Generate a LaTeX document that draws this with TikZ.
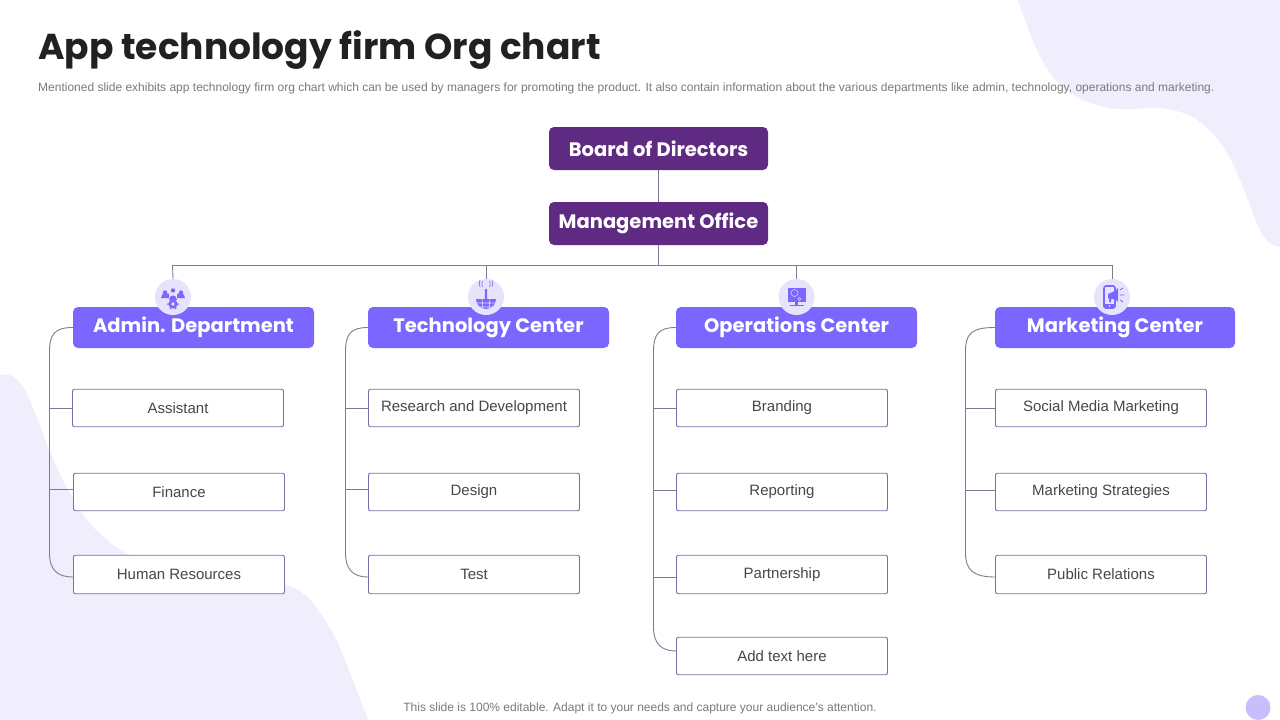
\documentclass[tikz,border=0pt]{standalone}
\usepackage{fontspec}
\setmainfont{Liberation Sans}
\newfontfamily\headfont{Poppins}
\definecolor{blob}{HTML}{F0EEFD}
\definecolor{deep}{HTML}{5F2A82}
\definecolor{violet}{HTML}{7B66FF}
\definecolor{halo}{HTML}{E6E3FB}
\definecolor{wire}{HTML}{7E7A96}
\definecolor{edge}{HTML}{7470A8}
\definecolor{dot}{HTML}{C6BFFB}
\tikzset{
  x=1pt,y=-1pt,
  topbox/.style={draw=none,fill=deep,rounded corners=5pt,minimum width=219pt,minimum height=43pt,inner sep=0pt,text=white,font=\headfont\bfseries\fontsize{19.5}{22}\selectfont},
  headbox/.style={draw=none,fill=violet,rounded corners=5pt,minimum width=241pt,minimum height=41pt,inner sep=0pt,text=white,font=\headfont\bfseries\fontsize{19.5}{22}\selectfont},
  itembox/.style={draw=edge,line width=0.9pt,fill=white,rounded corners=2pt,minimum width=211pt,minimum height=37.5pt,inner sep=0pt,text=black!72,font=\fontsize{15}{18}\selectfont},
  iconring/.style={circle,fill=halo,draw=none,minimum size=36pt,inner sep=0pt},
  wireline/.style={draw=wire,line width=0.9pt},
  glyph/.style={fill=violet,draw=none},
  glyphline/.style={draw=violet,line width=0.8pt,fill=none}
}
\newcommand{\bracket}[4]{% head, last item, trunk coordinate, lower-end y shift
  \draw[wireline] (#1.west) .. controls ($(#3 |- #1.west)+(5,0)$) and ($(#3 |- #1.west)+(0,7)$) .. ($(#3 |- #1.west)+(0,24)$)
    -- ($(#3 |- #2.west)+(0,#4-24)$) .. controls ($(#3 |- #2.west)+(0,#4-7)$) and ($(#3 |- #2.west)+(8,#4)$) .. ($(#2.west)+(0,#4)$);}
\usetikzlibrary{calc}
\begin{document}
\begin{tikzpicture}
\useasboundingbox (0,0) rectangle (1280,720);
\fill[white] (0,0) rectangle (1280,720);
% background shapes
\fill[blob] (1018,0) .. controls (1028,30) and (1038,58) .. (1053,77) .. controls (1063,88) and (1072,95) .. (1083,100) .. controls (1100,108) and (1118,110) .. (1133,109) .. controls (1145,108) and (1152,107) .. (1160,108) .. controls (1178,110) and (1190,114) .. (1200,122) .. controls (1212,132) and (1220,140) .. (1227,153) .. controls (1236,168) and (1241,183) .. (1247,197) .. controls (1253,212) and (1257,226) .. (1263,236) .. controls (1268,243) and (1274,246) .. (1280,247) -- (1280,0) -- cycle;
\fill[blob] (0,375) .. controls (5,374) and (10,374) .. (15,378) .. controls (22,384) and (27,392) .. (31,403) .. controls (37,417) and (42,430) .. (47,445) .. controls (54,461) and (60,475) .. (66,486) .. controls (75,502) and (85,520) .. (97,531) .. controls (108,541) and (118,550) .. (130,555) .. controls (150,570) and (220,570) .. (287,585) .. controls (302,590) and (312,600) .. (320,613) .. controls (332,630) and (338,642) .. (343,655) .. controls (352,677) and (360,700) .. (368,720) -- (0,720) -- cycle;
\fill[dot] (1258,707.5) circle (12.5);
% title and texts
\node[anchor=west,inner sep=0pt,text=black!87,font=\headfont\bfseries\fontsize{36}{40}\selectfont] (title) at (38,50) {App technology firm Org chart};
\node[anchor=west,inner sep=0pt,text=black!52,font=\fontsize{12}{14}\selectfont] (sub) at (38,88.5) {Mentioned slide exhibits app technology firm org chart which can be used by managers for promoting the product. It also contain information about the various departments like admin, technology, operations and marketing.};
\node[inner sep=0pt,text=black!52,font=\fontsize{12}{14}\selectfont] (foot) at (640,708.5) {This slide is 100\% editable. Adapt it to your needs and capture your audience's attention.};
% top nodes
\node[topbox] (board) at (658.5,148.5) {Board of Directors};
\node[topbox] (mgmt) at (658.5,223.5) {Management Office};
\draw[wireline] (board) -- (mgmt);
% department heads
\node[headbox] (hA) at (193.5,327.5) {Admin. Department};
\node[headbox] (hT) at (488.5,327.5) {Technology Center};
\node[headbox] (hO) at (796.5,327.5) {Operations Center};
\node[headbox,minimum width=240pt] (hM) at (1115,327.5) {Marketing Center};
% icon rings
\node[iconring] (iA) at (173,297) {};
\node[iconring] (iT) at (486,297) {};
\node[iconring] (iO) at (796.5,297) {};
\node[iconring] (iM) at (1112,297) {};
% bus
\coordinate (bus) at (658.5,265);
\coordinate (busA) at (172.5,265);
\coordinate (busM) at (1112,265);
\draw[wireline] (mgmt.south) -- (bus);
\draw[wireline] (busA) -- (busM);
\draw[wireline] (busA) -- (iA.north);
\draw[wireline] (iT.north) -- (iT.north |- bus);
\draw[wireline] (iO.north) -- (iO.north |- bus);
\draw[wireline] (busM) -- (iM.north);
% items
\node[itembox] (a1) at (178,408) {Assistant};
\node[itembox] (a2) at (179,492) {Finance};
\node[itembox,minimum height=38.5pt] (a3) at (179,574.5) {Human Resources};
\node[itembox] (t1) at (474,408) {Research and Development};
\node[itembox] (t2) at (474,492) {Design};
\node[itembox,minimum height=38.5pt] (t3) at (474,574.5) {Test};
\node[itembox] (o1) at (782,408) {Branding};
\node[itembox] (o2) at (782,492) {Reporting};
\node[itembox,minimum height=38.5pt] (o3) at (782,574.5) {Partnership};
\node[itembox] (o4) at (782,656) {Add text here};
\node[itembox] (m1) at (1101,408) {Social Media Marketing};
\node[itembox] (m2) at (1101,492) {Marketing Strategies};
\node[itembox,minimum height=38.5pt] (m3) at (1101,574.5) {Public Relations};
% trunks
\coordinate (tA) at (49.5,340);
\coordinate (tT) at (345.5,340);
\coordinate (tO) at (653.5,340);
\coordinate (tM) at (965.5,340);
\bracket{hA}{a3}{tA}{2.5}
\bracket{hT}{t3}{tT}{2.5}
\bracket{hO}{o4}{tO}{-5}
\bracket{hM}{m3}{tM}{2.5}
\draw[wireline] (tA |- a1.west) -- (a1.west);
\draw[wireline] ($(tA |- a2.west)+(0,-2.5)$) -- ($(a2.west)+(0,-2.5)$);
\draw[wireline] (tT |- t1.west) -- (t1.west);
\draw[wireline] ($(tT |- t2.west)+(0,-2.5)$) -- ($(t2.west)+(0,-2.5)$);
\draw[wireline] (tO |- o1.west) -- (o1.west);
\draw[wireline] ($(tO |- o2.west)+(0,-2)$) -- ($(o2.west)+(0,-2)$);
\draw[wireline] ($(tO |- o3.west)+(0,2.5)$) -- ($(o3.west)+(0,2.5)$);
\draw[wireline] (tM |- m1.west) -- (m1.west);
\draw[wireline] ($(tM |- m2.west)+(0,-2)$) -- ($(m2.west)+(0,-2)$);
% icon: people and gear
\begin{scope}[shift={(iA.center)}]
  \foreach \px in {-8,0,8}{
    \fill[glyph] (\px,-6.5+\px*\px/32) circle (2.2);
  }
  \fill[glyph] (-12,1) .. controls (-12,-5) and (-5,-4) .. (-4,-3) -- (-4,1) -- cycle;
  \fill[glyph] (12,1) .. controls (12,-5) and (5,-4) .. (4,-3) -- (4,1) -- cycle;
  \fill[glyph] (-4,3) .. controls (-4,-3) and (4,-3) .. (4,3) -- cycle;
  \fill[glyph] (0,7) circle (4.6);
  \foreach \ang in {0,60,...,300}{\fill[glyph] (\ang:0) ++(0,7) ++(\ang:5) circle (1);}
  \fill[halo] (0,7) circle (1.8);
\end{scope}
% icon: antenna over dish
\begin{scope}[shift={(iT.center)}]
  \fill[glyph] (-10,2) -- (10,2) .. controls (10,8) and (5,12) .. (0,12) .. controls (-5,12) and (-10,8) .. (-10,2) -- cycle;
  \fill[glyph] (-1,-7) -- (1,-7) -- (1.2,2) -- (-1.2,2) -- cycle;
  \fill[glyph] (0,-7) circle (1.4);
  \draw[halo,line width=0.6pt] (-10,6) -- (10,6) (-7.5,10) -- (7.5,10) (-4,2) -- (-3,12) (4,2) -- (3,12);
  \draw[glyphline,line width=0.6pt] (-3.5,-10) arc (150:210:6) (3.5,-10) arc (30:-30:6);
  \draw[glyphline,line width=0.6pt] (-6,-10) arc (155:205:8) (6,-10) arc (25:-25:8);
\end{scope}
% icon: monitor
\begin{scope}[shift={(iO.center)}]
  \fill[glyph] (-9,-9.5) rectangle (9,5);
  \draw[halo,line width=0.5pt] (-2,-4) circle (3.5) (3,2) circle (1.6);
  \fill[glyph] (-1.8,5) rectangle (1.8,8);
  \fill[glyph] (-7,8) rectangle (7,9.2);
\end{scope}
% icon: phone with megaphone
\begin{scope}[shift={(iM.center)}]
  \draw[draw=violet,line width=1.6pt,rounded corners=2pt,fill=halo] (-8,-11) rectangle (3,11);
  \fill[glyph] (-8,7) rectangle (3,11);
  \fill[halo] (-2.5,9) circle (1);
  \fill[glyph] (-4,-3) -- (3,-6) -- (6,-9) -- (6,5) -- (3,2) -- (-1,2) -- (-1,5) -- (-3,5) -- (-3,2) -- (-4,1) -- cycle;
  \draw[glyphline] (8,-7) -- (11,-9) (8,-2) -- (12,-2) (8,3) -- (11,5);
\end{scope}
\end{tikzpicture}
\end{document}
